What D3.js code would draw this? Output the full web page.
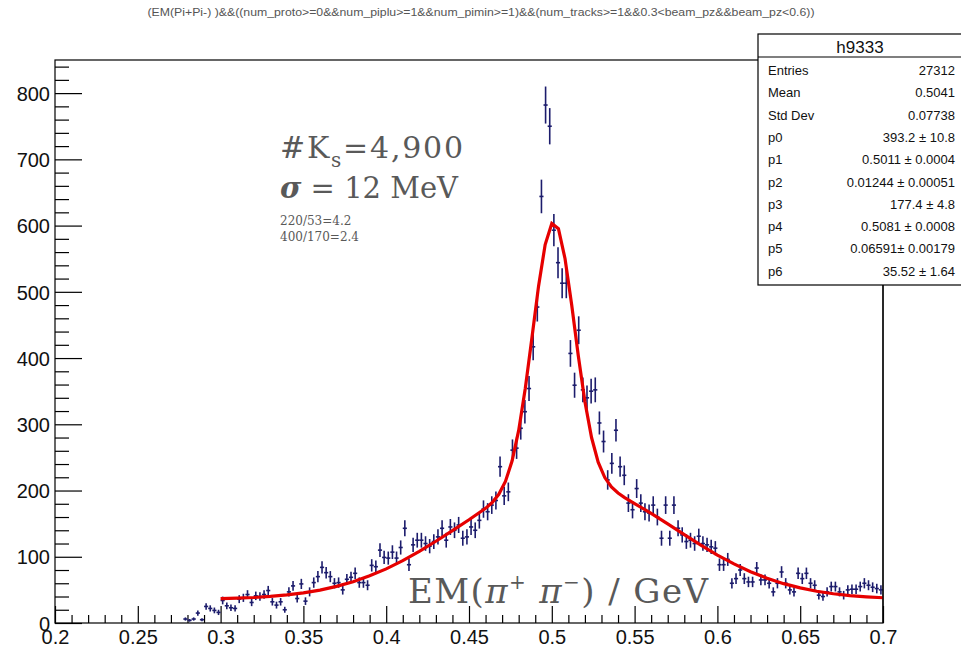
<!DOCTYPE html>
<html>
<head>
<meta charset="utf-8">
<script src="https://cdn.jsdelivr.net/npm/d3@7"></script>
<style>
  body { margin: 0; background: #fff; }
  svg { display: block; }
</style>
</head>
<body>
<svg id="chart" width="961" height="649"></svg>
<script>
// histogram binning (200 bins over 0.2 - 0.7), first filled bin starts at 0.2775
var binWidth = 0.0025;
var firstBinLow = 0.2775;

// bin contents
var counts = [
  6, 4, 6, 15, 5, 25, 22, 19, 16, 34,
  26, 23, 22, 36, 38, 43, 31, 41, 40, 43,
  49, 32, 27, 32, 20, 47, 56, 37, 59, 33,
  47, 61, 70, 84, 76, 70, 60, 61, 50, 66,
  69, 75, 61, 61, 57, 87, 85, 110, 99, 98,
  107, 98, 114, 143, 88, 118, 125, 125, 120, 116,
  123, 130, 143, 125, 145, 140, 148, 128, 130, 145,
  140, 155, 172, 168, 178, 185, 236, 192, 198, 261,
  264, 294, 319, 354, 417, 477, 644, 782, 750, 593,
  544, 513, 513, 407, 359, 442, 352, 340, 350, 352,
  302, 274, 216, 241, 291, 236, 223, 181, 171, 203,
  181, 168, 166, 178, 160, 128, 178, 128, 178, 143,
  133, 123, 125, 120, 131, 120, 118, 115, 113, 88,
  88, 96, 60, 67, 80, 67, 62, 62, 83, 65,
  65, 60, 47, 60, 77, 60, 50, 47, 75, 67,
  75, 60, 57, 42, 40, 47, 55, 55, 47, 42,
  50, 51, 51, 55, 60, 57, 54, 52, 50
];

// fit curve as seen on the picture
var fitX = [0.30, 0.31, 0.32, 0.33, 0.34, 0.35, 0.36, 0.37, 0.38, 0.39,
  0.40, 0.41, 0.42, 0.43, 0.44, 0.45, 0.46, 0.464, 0.468, 0.472,
  0.476, 0.480, 0.484, 0.488, 0.492, 0.496, 0.500, 0.504, 0.508, 0.512,
  0.516, 0.520, 0.524, 0.528, 0.532, 0.536, 0.540, 0.544, 0.55, 0.56,
  0.57, 0.58, 0.59, 0.60, 0.61, 0.62, 0.63, 0.64, 0.65, 0.66,
  0.67, 0.68, 0.69, 0.70];
var fitY = [36.7, 37.5, 38.5, 40.1, 42.4, 45.5, 49.7, 55.3, 62.4, 71.2,
  81.7, 94.1, 108.1, 123.4, 139.6, 155.9, 173.1, 181.9, 194.3, 213.7,
  244.5, 290.8, 354.3, 430.7, 508.6, 571.4, 603.3, 595.3, 550.0, 480.5,
  403.5, 334.0, 280.0, 242.9, 219.6, 205.4, 196.3, 189.4, 180.4, 165.6,
  149.6, 133.4, 117.5, 102.6, 89.2, 77.5, 67.6, 59.4, 53.0, 48.0,
  44.2, 41.4, 39.5, 38.1];

var xTicks = [0.2, 0.25, 0.3, 0.35, 0.4, 0.45, 0.5, 0.55, 0.6, 0.65, 0.7];
var yTicks = [0, 100, 200, 300, 400, 500, 600, 700, 800];

var statNames = ["Entries", "Mean", "Std Dev", "p0", "p1", "p2", "p3", "p4", "p5", "p6"];
var statValues = ["27312", "0.5041", "0.07738", "393.2 \u00b1 10.8", "0.5011 \u00b1 0.0004",
  "0.01244 \u00b1 0.00051", "177.4 \u00b1 4.8", "0.5081 \u00b1 0.0008",
  "0.06591\u00b1 0.00179", "35.52 \u00b1 1.64"];

var titleText = "(EM(Pi+Pi-) )&&((num_proto>=0&&num_piplu>=1&&num_pimin>=1)&&(num_tracks>=1&&0.3<beam_pz&&beam_pz<0.6))";

var svg = d3.select("#chart");
// frame edges (note: "top" is taken by window.top, so prefixed names)
var padL = 55, padR = 883, padT = 60, padB = 623;

var x = d3.scaleLinear().domain([0.2, 0.7]).range([padL, padR]);
var y = d3.scaleLinear().domain([0, 850]).range([padB, padT]);

svg.append("rect").attr("width", 961).attr("height", 649).attr("fill", "#fff");

// title
svg.append("text")
  .attr("x", 481).attr("y", 16)
  .attr("text-anchor", "middle")
  .attr("font-family", "Liberation Sans, Arial, sans-serif")
  .attr("font-size", 10.5)
  .attr("fill", "#555")
  .attr("textLength", 667)
  .attr("lengthAdjust", "spacingAndGlyphs")
  .text(titleText);

// axes with inside ticks
var axisFont = "Liberation Sans, Arial, sans-serif";
var gy = svg.append("g").attr("transform", "translate(" + padL + ",0)")
  .call(d3.axisLeft(y).tickValues(yTicks).tickSizeInner(-27).tickSizeOuter(0).tickPadding(5).tickFormat(d3.format("d")));
svg.append("g").attr("transform", "translate(" + padL + ",0)")
  .call(d3.axisLeft(y).tickValues(d3.range(20, 850, 20).filter(function(d){ return d % 100 != 0; }))
    .tickSizeInner(-14).tickSizeOuter(0).tickFormat(""));

var gx = svg.append("g").attr("transform", "translate(0," + padB + ")")
  .call(d3.axisBottom(x).tickValues(xTicks).tickSizeInner(-17).tickSizeOuter(0).tickPadding(7)
    .tickFormat(function(d){ return d3.format(".2~f")(d); }));
svg.append("g").attr("transform", "translate(0," + padB + ")")
  .call(d3.axisBottom(x).tickValues(d3.range(0.21, 0.7, 0.01).filter(function(d){ return Math.abs(d*20 - Math.round(d*20)) > 0.01; }))
    .tickSizeInner(-8).tickSizeOuter(0).tickFormat(""));

svg.selectAll(".domain").remove();
svg.selectAll(".tick line").attr("stroke", "#000").attr("stroke-width", 1.2);
svg.selectAll(".tick text").attr("font-family", axisFont).attr("font-size", 20).attr("fill", "#111");
gy.selectAll(".tick text").attr("dy", "0.36em").attr("x", -5);

// frame
svg.append("rect")
  .attr("x", padL).attr("y", padT)
  .attr("width", padR - padL).attr("height", padB - padT)
  .attr("fill", "none").attr("stroke", "#000").attr("stroke-width", 1.2);

// data points with error bars
var pts = counts.map(function(c, i) {
  return { x: firstBinLow + binWidth * (i + 0.5), n: c };
});
var marks = svg.append("g").attr("stroke", "#1c1c6c").attr("stroke-width", 1.6);
marks.selectAll(".ex").data(pts).enter().append("line")
  .attr("x1", function(d){ return x(d.x - binWidth / 2); })
  .attr("x2", function(d){ return x(d.x + binWidth / 2); })
  .attr("y1", function(d){ return y(d.n); })
  .attr("y2", function(d){ return y(d.n); });
marks.selectAll(".ey").data(pts).enter().append("line")
  .attr("x1", function(d){ return x(d.x); })
  .attr("x2", function(d){ return x(d.x); })
  .attr("y1", function(d){ return y(d.n - Math.sqrt(d.n)); })
  .attr("y2", function(d){ return y(d.n + Math.sqrt(d.n)); });

// fit
var line = d3.line().x(function(d){ return x(d[0]); }).y(function(d){ return y(d[1]); });
svg.append("path")
  .datum(fitX.map(function(v, i){ return [v, fitY[i]]; }))
  .attr("d", line)
  .attr("fill", "none").attr("stroke", "#e60000").attr("stroke-width", 3.2);

// stats box
var box = svg.append("g");
box.append("rect").attr("x", 758).attr("y", 34).attr("width", 210).attr("height", 251)
  .attr("fill", "#fff").attr("stroke", "#000").attr("stroke-width", 1.2);
box.append("line").attr("x1", 758).attr("x2", 961).attr("y1", 57).attr("y2", 57)
  .attr("stroke", "#000").attr("stroke-width", 1.2);
box.append("text").attr("x", 860).attr("y", 53).attr("text-anchor", "middle")
  .attr("font-family", axisFont).attr("font-size", 17).attr("fill", "#111").text("h9333");
statNames.forEach(function(name, i) {
  var yy = 75 + i * 22.3;
  box.append("text").attr("x", 768).attr("y", yy)
    .attr("font-family", axisFont).attr("font-size", 13).attr("fill", "#111").text(name);
  box.append("text").attr("x", 955).attr("y", yy).attr("text-anchor", "end")
    .attr("font-family", axisFont).attr("font-size", 13).attr("fill", "#111").text(statValues[i]);
});
// frame edge continues below the box
svg.append("line").attr("x1", padR).attr("x2", padR).attr("y1", 285).attr("y2", padB)
  .attr("stroke", "#000").attr("stroke-width", 1.2);

// annotations
var serif = "DejaVu Serif, Liberation Serif, serif";
var ann = svg.append("g").attr("font-family", serif).attr("fill", "#595959");
var t1 = ann.append("text").attr("x", 280).attr("y", 158).attr("font-size", 30)
  .attr("textLength", 183);
t1.append("tspan").text("#K");
t1.append("tspan").attr("dy", 9).attr("font-size", 20).text("s");
t1.append("tspan").attr("dy", -9).text("=4,900");
var t2 = ann.append("text").attr("x", 280).attr("y", 198).attr("font-size", 29);
t2.append("tspan").attr("font-weight", "bold").attr("font-style", "italic").text("\u03c3");
t2.append("tspan").text(" = 12 MeV");
ann.append("text").attr("x", 280).attr("y", 225).attr("font-size", 12).text("220/53=4.2");
ann.append("text").attr("x", 280).attr("y", 241).attr("font-size", 12).text("400/170=2.4");

var t3 = ann.append("text").attr("x", 408).attr("y", 603).attr("font-size", 34)
  .attr("textLength", 300);
t3.append("tspan").text("EM(");
t3.append("tspan").attr("font-style", "italic").text("\u03c0");
t3.append("tspan").attr("dy", -14).attr("font-size", 20).text("+");
t3.append("tspan").attr("dy", 14).text(" ");
t3.append("tspan").attr("font-style", "italic").text("\u03c0");
t3.append("tspan").attr("dy", -14).attr("font-size", 20).text("\u2212");
t3.append("tspan").attr("dy", 14).text(") / GeV");
</script>
</body>
</html>
